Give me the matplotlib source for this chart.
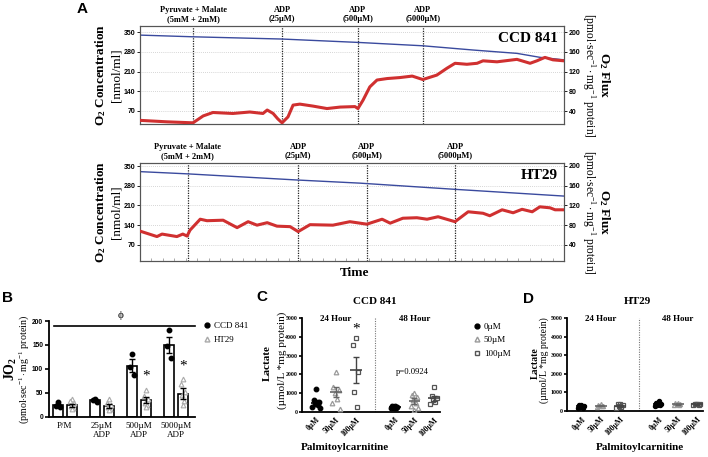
import numpy as np
import matplotlib
matplotlib.use("Agg")
import matplotlib.pyplot as plt
from matplotlib.lines import Line2D

plt.rcParams['font.family'] = ['Liberation Serif', 'DejaVu Serif']
plt.rcParams['mathtext.fontset'] = 'custom'
plt.rcParams['mathtext.rm'] = 'Liberation Serif'
plt.rcParams['mathtext.it'] = 'Liberation Serif:italic'
plt.rcParams['mathtext.bf'] = 'Liberation Serif:bold'
plt.rcParams['axes.linewidth'] = 0.8

# ---------------- Data ----------------
# Panel A (time in arbitrary units 0-100)
event_labels = ["Pyruvate + Malate\n(5mM + 2mM)", "ADP\n(25µM)", "ADP\n(500µM)", "ADP\n(5000µM)"]
ccd_event_time = [12.5, 33.5, 51.4, 66.7]
ht29_event_time = [11.3, 37.3, 53.5, 74.3]

ccd_conc_time = [0, 12.5, 33.5, 51.4, 66.7, 78.5, 88.9, 94.3, 100]
ccd_conc = [340, 334, 326, 314, 302, 287, 275, 261, 252]
ccd_flux_time = [0, 6.4, 12.5, 14.9, 17.2, 21.9, 25.9, 29.0, 30.0, 31.4, 32.5, 33.5, 34.9,
                 36.1, 37.7, 40.8, 44.1, 47.2, 50.7, 51.4, 52.6, 54.2, 55.9, 58.3, 61.3,
                 64.2, 66.7, 70.0, 72.4, 74.3, 77.1, 79.5, 80.9, 84.2, 88.9, 92.0, 93.6,
                 95.5, 97.4, 100]
ccd_flux = [21, 18, 16, 30, 37, 35, 38, 35, 42, 35, 24, 16, 28,
            52, 54, 50, 45, 48, 49, 45, 62, 89, 103, 106, 108,
            111, 104, 113, 127, 137, 135, 137, 142, 140, 145, 137, 142,
            149, 144, 142]

ht29_conc_time = [0, 11.3, 37.3, 51.9, 74.3, 100]
ht29_conc = [330, 322, 300, 289, 267, 243]
ht29_flux_time = [0, 4.0, 5.2, 8.7, 10.1, 11.1, 11.8, 14.2, 15.8, 19.6, 22.9, 25.5, 27.6,
                  30.0, 32.3, 35.4, 37.3, 40.1, 45.5, 49.5, 51.9, 53.5, 57.1, 59.0, 62.0,
                  65.3, 67.7, 70.3, 74.3, 77.4, 80.9, 82.5, 85.4, 88.0, 90.1, 92.5, 94.3,
                  96.7, 97.9, 100]
ht29_flux = [68, 57, 62, 57, 62, 58, 70, 92, 89, 90, 75, 87, 80,
             85, 78, 77, 67, 81, 80, 87, 84, 82, 92, 84, 94,
             95, 92, 97, 87, 107, 104, 99, 111, 105, 112, 107, 117,
             115, 111, 111]

# Panel B
b_categories = ["P/M", "25µM\nADP", "500µM\nADP", "5000µM\nADP"]
b_ccd_mean = [24, 34, 107, 150]
b_ccd_sem = [3, 2, 13, 17]
b_ht29_mean = [24, 23, 35, 48]
b_ht29_sem = [3, 4, 7, 11]
b_ccd_points = [[31, 22, 20], [38, 35, 31], [130, 104, 88], [181, 148, 122]]
b_ht29_points = [[36, 33, 28, 22, 19, 17], [37, 29, 25, 20, 17, 14],
                 [55, 44, 38, 29, 24, 21], [78, 68, 51, 45, 33, 24]]
b_sig = ["", "", "*", "*"]
b_sig_y = [0, 0, 84, 106]

# Panels C & D
lac_doses = ["0µM", "50µM", "100µM"]
lac_times = ["24 Hour", "48 Hour"]

ccd_24_points = [[1200, 600, 500, 420, 350, 260, 180],
                 [2100, 1300, 1150, 1000, 700, 450, 150],
                 [3950, 3550, 2100, 1050, 250]]
ccd_48_points = [[320, 280, 250, 220, 200, 180],
                 [1000, 900, 800, 650, 450, 300, 200, 100],
                 [1300, 850, 750, 650, 500, 400]]
ccd_24_mean = [480, 1070, 2230]
ccd_24_sem = [140, 270, 680]
ccd_48_mean = [260, 570, 710]
ccd_48_sem = [30, 170, 130]

ht29_24_points = [[340, 300, 260, 220, 180, 150],
                  [350, 320, 290, 270, 250, 230],
                  [400, 380, 300, 250, 200, 150]]
ht29_48_points = [[550, 450, 380, 330, 300, 280],
                  [450, 420, 380, 350, 320, 300],
                  [400, 380, 360, 350, 330, 310]]
ht29_24_mean = [250, 285, 270]
ht29_24_sem = [40, 20, 40]
ht29_48_mean = [370, 365, 355]
ht29_48_sem = [45, 20, 15]

# ---------------- Figure ----------------
W, H = 708, 457
fig = plt.figure(figsize=(7.08, 4.57), dpi=100)


def rect(l, t, r, b):
    return [l / W, 1 - b / H, (r - l) / W, (b - t) / H]


def ftext(x, y, s, **kw):
    return fig.text(x / W, 1 - y / H, s, **kw)


SANS = ['Liberation Sans', 'DejaVu Sans']
SERIF = ['Liberation Serif', 'DejaVu Serif']


def style_ticklabels(labels, size, weight='bold', family=SANS):
    for lab in labels:
        lab.set_fontsize(size)
        lab.set_fontweight(weight)
        lab.set_family(family)


# ---------- Panel A ----------
def trace_panel(box, conc_t, conc, flux_t, flux, events, title, ylim_l, ylim_r, minor):
    ax = fig.add_axes(rect(*box))
    ax2 = ax.twinx()
    ax.set_xlim(0, 100)
    ax.set_ylim(*ylim_l)
    ax2.set_ylim(*ylim_r)
    ax.set_yticks([70, 140, 210, 280, 350])
    ax2.set_yticks([40, 80, 120, 160, 200])
    for y in [70, 140, 210, 280, 350]:
        ax.axhline(y, color='#c8c8c8', lw=0.6, ls=(0, (1, 1.5)), zorder=0)
    for t in events:
        ax.axvline(t, color='#222222', lw=0.9, ls=(0, (1, 1)), zorder=1)
    ax.plot(conc_t, conc, color='#3a4a9e', lw=1.0, zorder=3)
    ax2.plot(flux_t, flux, color='#d03030', lw=2.2, solid_capstyle='round', zorder=3)
    ax.tick_params(axis='y', length=2.5, width=0.6, pad=1)
    ax2.tick_params(axis='y', length=2.5, width=0.6, pad=1)
    style_ticklabels(ax.get_yticklabels(), 5)
    style_ticklabels(ax2.get_yticklabels(), 5)
    if minor:
        ax.set_xticks(np.arange(0, 100.01, 100 / 37))
        ax.tick_params(axis='x', direction='in', length=2.5, width=0.5,
                       colors='#888888', labelbottom=False)
    else:
        ax.set_xticks([])
    for sp in list(ax.spines.values()) + list(ax2.spines.values()):
        sp.set_color('#555555')
        sp.set_linewidth(0.8)
    for t, lab in zip(events, event_labels):
        ax.text(t, 1.03, lab, transform=ax.get_xaxis_transform(), ha='center', va='bottom',
                fontsize=6, fontweight='bold', linespacing=1.15)
    ax.text(0.985, 0.94, title, transform=ax.transAxes, ha='right', va='top',
            fontsize=11, fontweight='bold')
    return ax


trace_panel((140, 26, 564, 124), ccd_conc_time, ccd_conc, ccd_flux_time, ccd_flux,
            ccd_event_time, "CCD 841", (23.7, 372.4), (13.6, 212.8), False)
trace_panel((140, 163, 564, 261), ht29_conc_time, ht29_conc, ht29_flux_time, ht29_flux,
            ht29_event_time, "HT29", (12, 360.7), (7.7, 205.4), True)

for yc in (75, 212):
    ftext(101, yc, r"O$_\mathbf{2}$ Concentration", rotation=90, ha='center', va='center',
          fontsize=9.5, fontweight='bold')
    ftext(117, yc, "[nmol/ml]", rotation=90, ha='center', va='center', fontsize=9.5)
    ftext(604, yc, r"O$_\mathbf{2}$ Flux", rotation=270, ha='center', va='center',
          fontsize=9.5, fontweight='bold')
    ftext(589, yc, r"[pmol$\cdot$sec$^{-1}\cdot$mg$^{-1}$ protein]", rotation=270,
          ha='center', va='center', fontsize=8.3)
ftext(355, 273, "Time", ha='center', va='center', fontsize=9.5, fontweight='bold')

# ---------- Panel B ----------
axb = fig.add_axes(rect(49, 321, 195, 416.7))
xb = np.arange(len(b_categories))
off = 0.19
bw = 0.27
axb.bar(xb - off, b_ccd_mean, width=bw, color='white', edgecolor='black', lw=1.2, zorder=2)
axb.bar(xb + off, b_ht29_mean, width=bw, color='white', edgecolor='black', lw=1.2, zorder=2)
axb.errorbar(xb - off, b_ccd_mean, yerr=b_ccd_sem, fmt='none', ecolor='black', elinewidth=1,
             capsize=2.5, capthick=1, zorder=4)
axb.errorbar(xb + off, b_ht29_mean, yerr=b_ht29_sem, fmt='none', ecolor='black', elinewidth=1,
             capsize=2.5, capthick=1, zorder=4)
ccd_offs = [0.0, -0.05, 0.05]
ht_offs = [0.0, -0.06, 0.06, -0.03, 0.03, 0.0]
for i in range(len(b_categories)):
    for j, v in enumerate(b_ccd_points[i]):
        axb.plot(i - off + ccd_offs[j % 3], v, 'o', ms=3.2, color='black', zorder=3)
    for j, v in enumerate(b_ht29_points[i]):
        axb.plot(i + off + ht_offs[j % 6], v, '^', ms=3.4, mfc='white', mec='#aaaaaa',
                 mew=0.8, zorder=3)
    if b_sig[i]:
        axb.text(i + off, b_sig_y[i], b_sig[i], ha='center', va='center', fontsize=11)
axb.set_xlim(-0.43, 3.51)
axb.set_ylim(0, 200)
axb.set_yticks([0, 50, 100, 150, 200])
axb.set_xticks(xb)
axb.set_xticklabels(b_categories, fontsize=6.5, linespacing=1.2)
axb.tick_params(axis='x', length=0, pad=4)
axb.tick_params(axis='y', length=3, width=1.2, pad=1.2)
style_ticklabels(axb.get_yticklabels(), 4.8)
for s in ['top', 'right']:
    axb.spines[s].set_visible(False)
for s in ['left', 'bottom']:
    axb.spines[s].set_linewidth(1.3)
axb.plot([-0.3, 3.51], [189, 189], color='black', lw=1.2, clip_on=False)
axb.text(1.51, 212, "ϕ", ha='center', va='center', fontsize=8)
axb.legend(handles=[Line2D([], [], marker='o', ls='none', color='black', ms=3.5, label='CCD 841'),
                    Line2D([], [], marker='^', ls='none', mfc='white', mec='#aaaaaa', ms=3.5,
                           label='HT29')],
           loc='upper left', bbox_to_anchor=(1.02, 1.03), frameon=False, fontsize=6.5,
           handletextpad=0.2, handlelength=1.2, borderaxespad=0, labelspacing=0.6)
ftext(10.5, 369, r"JO$_\mathbf{2}$", rotation=90, ha='center', va='center', fontsize=10,
      fontweight='bold')
ftext(24, 369, r"(pmol$\cdot$sec$^{-1}\cdot$mg$^{-1}$ protein)", rotation=90, ha='center',
      va='center', fontsize=7.2)

# ---------- Panels C & D ----------
dose_style = [dict(marker='o', mfc='black', mec='black', line='black'),
              dict(marker='^', mfc='none', mec='#9a9a9a', line='#666666'),
              dict(marker='s', mfc='none', mec='#555555', line='#444444')]
jit = [0.0, -0.13, 0.13, -0.07, 0.07, -0.2, 0.2, 0.0]


def lactate_panel(box, p24, p48, m24, s24, m48, s48, ms, legend):
    ax = fig.add_axes(rect(*box))
    pos = [0, 1, 2, 4, 5, 6]
    groups = list(zip(p24, m24, s24)) + list(zip(p48, m48, s48))
    for k, (pts, m, s) in enumerate(groups):
        st = dose_style[k % 3]
        p = pos[k]
        for j, v in enumerate(pts):
            ax.plot(p + jit[j % len(jit)], v, st['marker'], ms=ms, mfc=st['mfc'],
                    mec=st['mec'], mew=0.9, zorder=3)
        ax.hlines(m, p - 0.3, p + 0.3, color=st['line'], lw=1.2, zorder=4)
        ax.errorbar(p, m, yerr=s, fmt='none', ecolor=st['line'], elinewidth=1,
                    capsize=2.5, capthick=1, zorder=4)
    ax.axvline(3, color='#777777', lw=0.8, ls=(0, (1, 1.2)), zorder=1)
    ax.set_xlim(-0.75, 6.3)
    ax.set_ylim(0, 5000)
    ax.set_yticks([0, 1000, 2000, 3000, 4000, 5000])
    ax.set_xticks(pos)
    ax.set_xticklabels(lac_doses * 2, rotation=45, ha='right', rotation_mode='anchor')
    style_ticklabels(ax.get_xticklabels(), 5.5, family=SERIF)
    style_ticklabels(ax.get_yticklabels(), 4.2, family=SERIF)
    ax.tick_params(axis='x', length=0, pad=3)
    ax.tick_params(axis='y', length=2.5, width=1.2, pad=0.6)
    for s in ['top', 'right']:
        ax.spines[s].set_visible(False)
    for s in ['left', 'bottom']:
        ax.spines[s].set_linewidth(1.3)
    ax.text(1, 4950, lac_times[0], ha='center', va='center', fontsize=6.5, fontweight='bold')
    ax.text(5, 4950, lac_times[1], ha='center', va='center', fontsize=6.5, fontweight='bold')
    if legend:
        hs = [Line2D([], [], marker=st['marker'], ls='none', mfc=st['mfc'], mec=st['mec'],
                     ms=3.5, label=d) for st, d in zip(dose_style, lac_doses)]
        ax.legend(handles=hs, loc='upper left', bbox_to_anchor=(1.2, 0.99), frameon=False,
                  fontsize=6.5, handletextpad=0.2, handlelength=1.2, borderaxespad=0,
                  labelspacing=0.55)
    return ax


axc = lactate_panel((301.7, 318.3, 440, 411.7), ccd_24_points, ccd_48_points,
                    ccd_24_mean, ccd_24_sem, ccd_48_mean, ccd_48_sem, 3.3, True)
axc.text(2, 4450, "*", ha='center', va='center', fontsize=11)
axc.text(4.9, 2150, "p=0.0924", ha='center', va='center', fontsize=6.2)

axd = lactate_panel((567, 318, 703, 411), ht29_24_points, ht29_48_points,
                    ht29_24_mean, ht29_24_sem, ht29_48_mean, ht29_48_sem, 3.0, False)

ftext(375, 302, "CCD 841", ha='center', va='center', fontsize=8, fontweight='bold')
ftext(637, 302, "HT29", ha='center', va='center', fontsize=8, fontweight='bold')
for xl, xu, xc, fs in ((267, 282, 345, 8), (535, 544.5, 640, 7)):
    ftext(xl, 363, "Lactate", rotation=90, ha='center', va='center', fontsize=fs,
          fontweight='bold')
    ftext(xu, 360, "(µmol/L *mg protein)", rotation=90, ha='center', va='center', fontsize=fs)
    ftext(xc, 448, "Palmitoylcarnitine", ha='center', va='center', fontsize=8,
          fontweight='bold')

# Panel letters
for x, y, s in ((82, 9, "A"), (7, 298, "B"), (262, 297, "C"), (529, 299, "D")):
    ftext(x, y, s, ha='center', va='center', fontsize=11, fontweight='bold', family=SANS)

fig.savefig("out.png", dpi=100)
